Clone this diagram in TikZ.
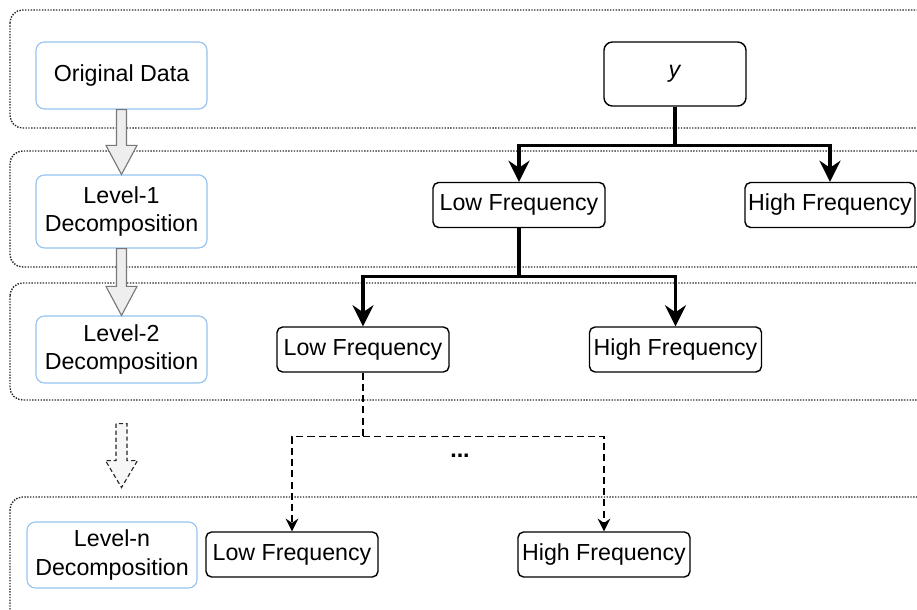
\documentclass[tikz,border=0pt]{standalone}
\usepackage{fontspec}
\setmainfont{Liberation Sans}
\usepackage{tikz}
\usetikzlibrary{arrows.meta,positioning,calc}
\definecolor{stageblue}{RGB}{150,195,240}
\definecolor{bandgray}{RGB}{40,40,40}
\definecolor{arrowgray}{RGB}{120,120,120}
\definecolor{arrowfill}{RGB}{238,238,238}
\newcommand{\lbl}{\fontsize{16.5}{20.5}\selectfont}
\tikzset{
    band/.style={draw=bandgray, line width=1pt, dash pattern=on 1pt off 1pt, rounded corners=9pt},
    stage/.style={draw=stageblue, line width=0.8pt, rounded corners=6pt, fill=white,
                  minimum width=4.275cm, minimum height=1.675cm, align=center, font=\lbl},
    freq/.style={draw, line width=1pt, rounded corners=4pt, fill=white,
                 minimum width=4.3cm, minimum height=1.125cm, inner sep=1pt, font=\lbl},
    bigarrow/.style={draw=arrowgray, fill=arrowfill, line width=0.8pt, line join=miter},
    tree/.style={line width=2.2pt, -{Stealth[length=15pt, width=15pt, inset=5pt]}},
    sub/.style={line width=1.1pt, dash pattern=on 5pt off 3pt, -{Stealth[length=9pt, width=9pt, inset=3pt]}},
}

\begin{document}
\begin{tikzpicture}[x=0.025cm, y=-0.025cm]
    \useasboundingbox (0,0) rectangle (917,610);
    \clip (0,0) rectangle (917,610);

    % Level bands
    \draw[band] (10,10) rectangle (940,128);
    \draw[band] (10,151) rectangle (940,267);
    \draw[band] (10,283) rectangle (940,400);
    \draw[band] (10,497) rectangle (940,640);

    % Stage labels
    \node[stage] (orig) at (121.5,75.5) {Original Data};
    \node[stage, minimum height=1.825cm] (lv1) at (121.5,211.5) {Level-1\\Decomposition};
    \node[stage] (lv2) at (121.5,349.5) {Level-2\\Decomposition};
    \node[stage, minimum width=4.25cm, minimum height=1.65cm] (lvn) at (112,555) {Level-n\\Decomposition};

    % Signal and its parts
    \node[freq, minimum width=3.55cm, minimum height=1.6cm, rounded corners=6pt] (ysig) at (675,74) {\textit{y}};
    \node[freq] (low1) at (519,205) {Low Frequency};
    \node[freq, minimum width=4.25cm] (high1) at (830,205) {High Frequency};
    \node[freq] (low2) at (363,349.5) {Low Frequency};
    \node[freq] (high2) at (675.5,349.5) {High Frequency};
    \node[freq] (lown) at (292,554.5) {Low Frequency};
    \node[freq] (highn) at (604,554.5) {High Frequency};
    \node[font=\lbl\bfseries] (dots) at (460,456) {...};

    % Block arrows between stages
    \draw[bigarrow] ($(orig.south)+(-5,0)$) -- ($(lv1.north)+(-5,-29)$) -- ($(lv1.north)+(-15.5,-29)$)
        -- (lv1.north) -- ($(lv1.north)+(15.5,-29)$) -- ($(lv1.north)+(5,-29)$) -- ($(orig.south)+(5,0)$) -- cycle;
    \draw[bigarrow] ($(lv1.south)+(-5,0)$) -- ($(lv2.north)+(-5,-29)$) -- ($(lv2.north)+(-15.5,-29)$)
        -- (lv2.north) -- ($(lv2.north)+(15.5,-29)$) -- ($(lv2.north)+(5,-29)$) -- ($(lv1.south)+(5,0)$) -- cycle;
    \draw[bigarrow, draw=black!85, fill=black!3, dash pattern=on 3pt off 2pt]
        ($(lv2.south)+(-5.5,40)$) -- ($(lv2.south)+(-5.5,77)$) -- ($(lv2.south)+(-16,77)$)
        -- ($(lv2.south)+(0,104)$) -- ($(lv2.south)+(16,77)$) -- ($(lv2.south)+(5.5,77)$) -- ($(lv2.south)+(5.5,40)$) -- cycle;

    % Decomposition tree
    \coordinate (fork0) at ($(ysig.south)+(0,39)$);
    \draw[tree] (ysig.south) -- (fork0) -| (low1.north);
    \draw[tree] (fork0) -| (high1.north);
    \coordinate (fork1) at ($(low1.south)+(0,48)$);
    \draw[tree] (low1.south) -- (fork1) -| (low2.north);
    \draw[tree] (fork1) -| (high2.north);
    \coordinate (fork2) at ($(low2.south)+(0,64)$);
    \draw[sub] (low2.south) -- (fork2) -| (lown.north);
    \draw[sub] (fork2) -| (highn.north);
\end{tikzpicture}
\end{document}
